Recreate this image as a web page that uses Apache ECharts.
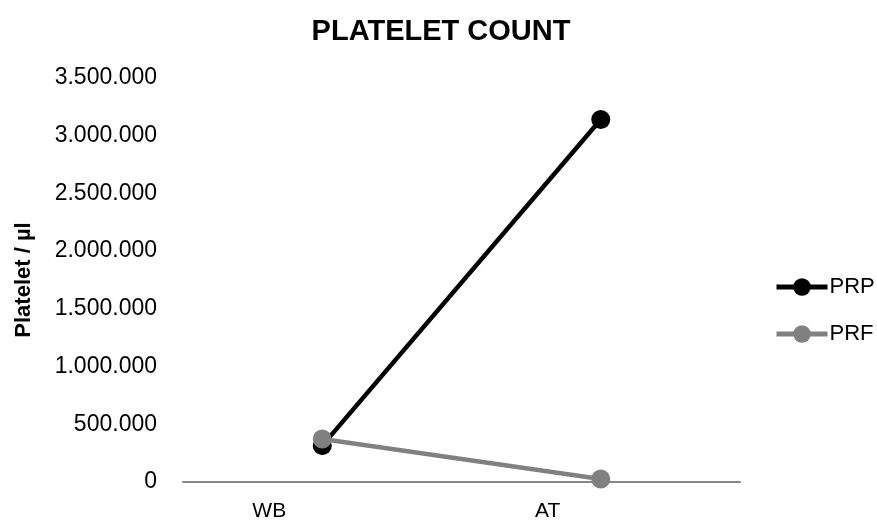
<!DOCTYPE html>
<html>
<head>
<meta charset="utf-8">
<script src="https://cdn.jsdelivr.net/npm/echarts@6/dist/echarts.min.js"></script>
<style>html,body{margin:0;padding:0;background:#fff}#c{width:877px;height:522px}</style>
</head>
<body>
<div id="c"></div>
<script>
const categories = ['WB', 'AT'];
const prpValues = [315000, 3140000];
const prfValues = [372000, 26000];
const seriesNames = ['PRP', 'PRF'];
const yMin = 0, yMax = 3500000, yStep = 500000;

function fmt(v) {
  return String(Math.round(v)).replace(/\B(?=(\d{3})+(?!\d))/g, '.');
}
const FF = 'Liberation Sans, Arial, sans-serif';
const chart = echarts.init(document.getElementById('c'), null, {renderer: 'canvas'});
chart.setOption({
  animation: false,
  backgroundColor: '#fff',
  title: {
    text: 'PLATELET COUNT', top: 12, left: 436,
    textAlign: 'center',
    textStyle: {fontFamily: FF, fontWeight: 'bold', fontSize: 29, color: '#000'}
  },
  legend: {
    orient: 'vertical', left: 769, top: 271, itemGap: 25, itemWidth: 51, itemHeight: 22,
    lineStyle: {width: 5},
    textStyle: {fontFamily: FF, fontSize: 22, color: '#000', padding: [0, 0, 0, -3]},
    data: seriesNames
  },
  grid: {left: 183, right: 137, top: 78, bottom: 39, containLabel: false},
  xAxis: {
    type: 'category', data: categories, boundaryGap: true,
    axisLine: {lineStyle: {color: '#868686', width: 2}},
    axisTick: {show: false},
    axisLabel: {fontFamily: FF, fontSize: 21, color: '#000', margin: 19, padding: [0, 106, 0, 0]}
  },
  yAxis: {
    type: 'value', min: yMin, max: yMax, interval: yStep,
    name: 'Platelet / µl', nameLocation: 'middle', nameGap: 148,
    nameTextStyle: {fontFamily: FF, fontWeight: 'bold', fontSize: 22, color: '#000'},
    axisLine: {show: false}, axisTick: {show: false}, splitLine: {show: false},
    axisLabel: {fontFamily: FF, fontSize: 23, color: '#000', margin: 26, formatter: fmt}
  },
  series: [
    {name: seriesNames[0], type: 'line', data: prpValues, symbol: 'circle', symbolSize: 19,
     itemStyle: {color: '#000'}, lineStyle: {color: '#000', width: 4.5}},
    {name: seriesNames[1], type: 'line', data: prfValues, symbol: 'circle', symbolSize: 19,
     itemStyle: {color: '#808080'}, lineStyle: {color: '#808080', width: 4.5}}
  ]
});
</script>
</body>
</html>
